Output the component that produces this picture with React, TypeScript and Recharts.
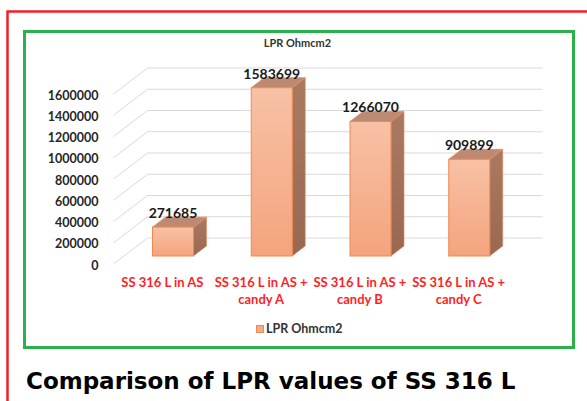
import React from "react";
import { BarChart, Bar, XAxis, YAxis, CartesianGrid, LabelList } from "recharts";

const categories = [
  "SS 316 L in AS",
  "SS 316 L in AS + candy A",
  "SS 316 L in AS + candy B",
  "SS 316 L in AS + candy C",
];
const lprValues = [271685, 1583699, 1266070, 909899];
const yTicks = [0, 200000, 400000, 600000, 800000, 1000000, 1200000, 1400000, 1600000];
const seriesName = "LPR Ohmcm2";
const chartTitle = "LPR Ohmcm2";
const caption = "Comparison of LPR values of SS 316 L";

const data = categories.map((c, i) => ({ category: c, lpr: lprValues[i] }));

const FONT = "Lato, 'Open Sans', sans-serif";
const DEPTH_X = 13;
const DEPTH_Y = 10;
const FRONT_DX = -10;
const FRONT_DY = 8;
const BACK_DX = 24;
const BACK_DY = -18;

function Bar3D(props: any) {
  const { x, y, width, height } = props;
  if (width == null || height == null) return null;
  const w = width;
  const h = height;
  const top = `${x},${y} ${x + w},${y} ${x + w + DEPTH_X},${y - DEPTH_Y} ${x + DEPTH_X},${y - DEPTH_Y}`;
  const side = `${x + w},${y} ${x + w + DEPTH_X},${y - DEPTH_Y} ${x + w + DEPTH_X},${y + h - DEPTH_Y} ${x + w},${y + h}`;
  return (
    <g>
      <polygon points={side} fill="url(#sideGrad)" stroke="#e9875a" strokeWidth={0.6} />
      <polygon points={top} fill="#bc8a72" stroke="#ee8a56" strokeWidth={0.8} />
      <rect x={x} y={y} width={w} height={h} fill="url(#frontGrad)" stroke="#f0894f" strokeWidth={1} />
    </g>
  );
}

function gridLine(p: any) {
  const { x1, x2, y1, index } = p;
  return (
    <g key={`gl-${index}`}>
      <line x1={x1 + FRONT_DX} y1={y1 + FRONT_DY} x2={x1 + BACK_DX} y2={y1 + BACK_DY} stroke="#d9d9d9" strokeWidth={1} />
      <line x1={x1 + BACK_DX} y1={y1 + BACK_DY} x2={x2 + BACK_DX} y2={y1 + BACK_DY} stroke="#d9d9d9" strokeWidth={1} />
    </g>
  );
}

function YTick(props: any) {
  const { x, y, payload } = props;
  return (
    <text x={x - 25} y={y + FRONT_DY + 1} textAnchor="end" dominantBaseline="central"
      fontFamily={FONT} fontWeight={700} fontSize={12.5} fill="#262626">
      {payload.value}
    </text>
  );
}

function XTick(props: any) {
  const { x, y, payload } = props;
  const s: string = payload.value;
  const idx = s.indexOf(" + ");
  const lines = idx >= 0 ? [s.slice(0, idx + 2), s.slice(idx + 3)] : [s];
  return (
    <g>
      {lines.map((ln, i) => (
        <text key={i} x={x + FRONT_DX - 0.5} y={y + 31 + i * 17} textAnchor="middle"
          fontFamily={FONT} fontWeight={700} fontSize={13} fill="#ff1f1f">
          {ln}
        </text>
      ))}
    </g>
  );
}

function ValueLabel(props: any) {
  const { x, y, width, value } = props;
  return (
    <text x={x + width / 2} y={y - 9} textAnchor="middle" fontFamily={FONT} fontWeight={700}
      fontSize={14} fill="#1a1a1a">
      {value}
    </text>
  );
}

export default function App() {
  return (
    <div style={{ position: "absolute", left: 0, top: 0, width: 587, height: 401, background: "#fff", overflow: "hidden" }}>
      <svg width={587} height={401} style={{ position: "absolute", left: 0, top: 0 }}>
        <rect x={7.5} y={11.5} width={620} height={420} fill="none" stroke="#ee2028" strokeWidth={2.5} />
        <rect x={24.5} y={31.5} width={549} height={316} fill="none" stroke="#2bb04a" strokeWidth={3} />
        <text x={297.5} y={47} textAnchor="middle" fontFamily={FONT} fontWeight={700} fontSize={11} fill="#333">
          {chartTitle}
        </text>
        <rect x={256.5} y={325.5} width={7} height={7} fill="#f6ab86" stroke="#ee8a56" strokeWidth={1} />
        <text x={266} y={333} fontFamily={FONT} fontWeight={700} fontSize={12.5} fill="#333">
          {seriesName}
        </text>
        <text x={26} y={389} fontFamily="'DejaVu Sans', sans-serif" fontWeight={700} fontSize={23} fill="#000">
          {caption}
        </text>
      </svg>
      <div style={{ position: "absolute", left: 0, top: 0 }}>
        <BarChart width={587} height={401} data={data}
          margin={{ top: 86, right: 68.5, bottom: 115, left: 63.5 }}>
          <defs>
            <linearGradient id="frontGrad" x1="0" y1="0" x2="0" y2="1">
              <stop offset="0%" stopColor="#f8c1a5" />
              <stop offset="100%" stopColor="#f4a47d" />
            </linearGradient>
            <linearGradient id="sideGrad" x1="0" y1="0" x2="0" y2="1">
              <stop offset="0%" stopColor="#a97a62" />
              <stop offset="100%" stopColor="#9a6850" />
            </linearGradient>
          </defs>
          <CartesianGrid vertical={false} horizontal={gridLine} />
          <XAxis dataKey="category" height={30} axisLine={false} tickLine={false} tickSize={0} tickMargin={0}
            tick={<XTick />} interval={0} />
          <YAxis width={60} domain={[0, 1600000]} ticks={yTicks} axisLine={false} tickLine={false}
            tickSize={0} tickMargin={0} tick={<YTick />} interval={0} />
          <Bar dataKey="lpr" name={seriesName} barSize={41} shape={<Bar3D />} isAnimationActive={false}>
            <LabelList dataKey="lpr" content={<ValueLabel />} />
          </Bar>
        </BarChart>
      </div>
    </div>
  );
}
